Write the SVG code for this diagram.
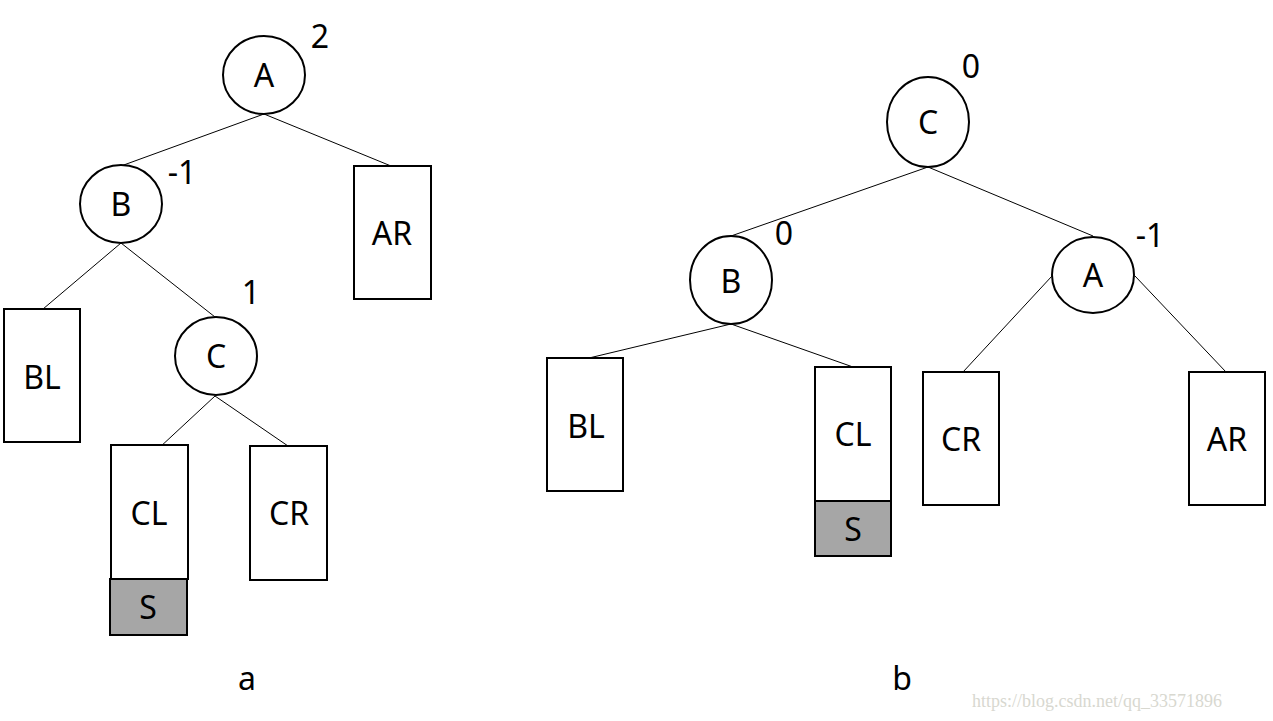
<svg xmlns="http://www.w3.org/2000/svg" width="1273" height="721" viewBox="0 0 1273 721">
<style>
.n{fill:#fff;stroke:#000;stroke-width:2}
.s{fill:#a6a6a6;stroke:#000;stroke-width:2}
.e{stroke:#000;stroke-width:1;fill:none}
text{font-family:"Noto Sans","Liberation Sans",sans-serif;font-size:32px;fill:#000;text-anchor:middle}
.w{font-family:"Liberation Serif",serif;font-size:18px;fill:#d8d8d0}
</style>
<rect width="1273" height="721" fill="#fff"/>
<g id="connectors">
<line class="e" x1="264" y1="114" x2="121" y2="166"/>
<line class="e" x1="264" y1="114" x2="391" y2="166"/>
<line class="e" x1="121" y1="243" x2="43" y2="309"/>
<line class="e" x1="121" y1="243" x2="215" y2="317"/>
<line class="e" x1="215" y1="396" x2="159" y2="448"/>
<line class="e" x1="215" y1="396" x2="288" y2="446"/>
<line class="e" x1="928" y1="167" x2="731" y2="236"/>
<line class="e" x1="928" y1="167" x2="1093" y2="236"/>
<line class="e" x1="731" y1="324" x2="589" y2="358"/>
<line class="e" x1="731" y1="324" x2="853" y2="367"/>
<line class="e" x1="1052" y1="276" x2="963" y2="372"/>
<line class="e" x1="1135" y1="276" x2="1226" y2="372"/>
</g>
<g id="A"><ellipse class="n" cx="264" cy="75" rx="41" ry="39"/><text x="264" y="87">A</text></g>
<g id="B"><ellipse class="n" cx="121" cy="204" rx="41" ry="39"/><text x="121" y="216">B</text></g>
<g id="AR"><rect class="n" x="354" y="166" width="77" height="133"/><text x="392" y="245">AR</text></g>
<g id="BL"><rect class="n" x="4" y="309" width="76" height="133"/><text x="42" y="389">BL</text></g>
<g id="C"><ellipse class="n" cx="216" cy="356" rx="41" ry="39"/><text x="216" y="368">C</text></g>
<g id="CL"><rect class="n" x="111" y="445" width="77" height="134"/><text x="149" y="525">CL</text></g>
<g id="S"><rect class="s" x="110" y="579" width="77" height="56"/><text x="148" y="619">S</text></g>
<g id="CR"><rect class="n" x="250" y="446" width="77" height="134"/><text x="289" y="525">CR</text></g>
<g id="labels-a"><text x="320" y="48">2</text><text x="182" y="184">-1</text><text x="251" y="304">1</text><text x="247" y="690">a</text></g>
<g id="C2"><ellipse class="n" cx="928" cy="122" rx="41" ry="45"/><text x="928" y="134">C</text></g>
<g id="B2"><ellipse class="n" cx="731" cy="280" rx="41" ry="44"/><text x="731" y="293">B</text></g>
<g id="A2"><ellipse class="n" cx="1093" cy="275" rx="41" ry="38"/><text x="1093" y="287">A</text></g>
<g id="BL2"><rect class="n" x="547" y="358" width="76" height="133"/><text x="586" y="438">BL</text></g>
<g id="CL2"><rect class="n" x="815" y="367" width="76" height="134"/><text x="853" y="446">CL</text></g>
<g id="S2"><rect class="s" x="815" y="501" width="76" height="55"/><text x="853" y="541">S</text></g>
<g id="CR2"><rect class="n" x="923" y="372" width="76" height="133"/><text x="961" y="451">CR</text></g>
<g id="AR2"><rect class="n" x="1189" y="372" width="76" height="133"/><text x="1227" y="451">AR</text></g>
<g id="labels-b"><text x="971" y="78">0</text><text x="784" y="245">0</text><text x="1150" y="247">-1</text><text x="902" y="690">b</text></g>
<text class="w" x="1097" y="707" text-anchor="middle">https://blog.csdn.net/qq_33571896</text>
</svg>
